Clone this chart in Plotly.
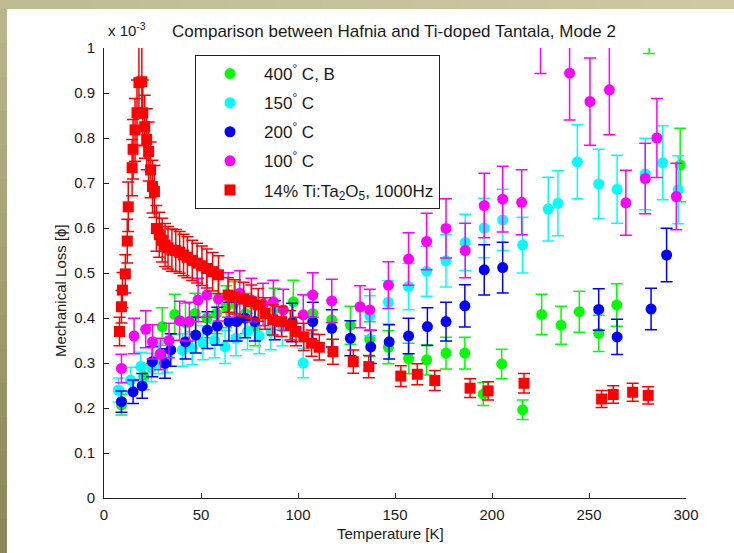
import plotly.graph_objects as go

# ---------------- data (mechanical loss in units of 1e-3) ----------------
t_green = [9, 20.5, 30, 36.5, 42, 47, 53, 58, 63, 67, 73, 78, 88, 97.6, 107.6, 117.4, 127,
           137, 146.6, 157, 166.3, 176.3, 186, 195.5, 205, 215.8, 225.6, 235.6, 245, 255,
           264.3, 281, 297]
l_green = [0.207, 0.27, 0.381, 0.408, 0.39, 0.41, 0.40, 0.41, 0.425, 0.433, 0.41, 0.38, 0.42,
           0.436, 0.41, 0.396, 0.384, 0.353, 0.335, 0.31, 0.307, 0.322, 0.322, 0.231, 0.298,
           0.196, 0.408, 0.384, 0.414, 0.366, 0.429, 1.11, 0.74]

t_cyan = [7.5, 13.7, 19, 24.5, 28, 32.6, 40.4, 45.5, 51, 57, 62.4, 68, 74, 80, 86, 92, 102.7,
          137, 146.6, 157, 166.3, 176.3, 186.2, 196, 205.5, 215.8, 229, 234, 244, 255, 264.5,
          279, 288, 296]
l_cyan = [0.24, 0.262, 0.292, 0.29, 0.31, 0.314, 0.329, 0.333, 0.345, 0.35, 0.336, 0.355, 0.37,
          0.36, 0.37, 0.38, 0.30, 0.405, 0.435, 0.47, 0.504, 0.527, 0.568, 0.60, 0.618, 0.562,
          0.642, 0.655, 0.747, 0.698, 0.686, 0.72, 0.745, 0.685]

t_blue = [9, 15, 19.7, 24.9, 31.4, 34.4, 42, 47.3, 53.3, 58.4, 64.4, 68.4, 72.7, 77.8, 88, 97,
          107.6, 117.4, 127, 137.5, 147, 157, 166.7, 176.3, 186, 196, 205.5, 255, 264.5, 282, 290]
l_blue = [0.214, 0.236, 0.249, 0.303, 0.299, 0.329, 0.347, 0.362, 0.373, 0.382, 0.392, 0.392,
          0.40, 0.392, 0.395, 0.39, 0.392, 0.377, 0.355, 0.336, 0.347, 0.36, 0.381, 0.392, 0.427,
          0.507, 0.512, 0.419, 0.358, 0.42, 0.54]

t_magenta = [9, 15.5, 21.5, 25, 29, 33.5, 39, 44, 48.5, 53, 59, 64, 70, 76, 82, 87.3, 92.4,
             102.7, 107.6, 117.4, 132, 137, 146.6, 157, 166.3, 176.3, 186.2, 196, 205.5, 215.3,
             225, 240, 250.5, 260.5, 269, 279, 285, 295]
l_magenta = [0.288, 0.36, 0.375, 0.347, 0.32, 0.35, 0.394, 0.392, 0.44, 0.451, 0.442, 0.451,
             0.455, 0.44, 0.43, 0.436, 0.418, 0.407, 0.451, 0.438, 0.425, 0.418, 0.473, 0.531,
             0.57, 0.599, 0.55, 0.65, 0.664, 0.657, 1.06, 0.944, 0.881, 0.907, 0.656, 0.71,
             0.80, 0.67]

t_red = [8, 9, 9.5, 11, 12, 12.5, 14.5, 15, 16, 17, 18, 19.5, 20, 21, 22, 23, 24, 25, 26, 27,
         28.5, 30, 31.5, 33, 35, 37, 39, 41, 43, 45.5, 48, 50.5, 53, 56, 59, 64, 67.5, 72, 76,
         79.5, 83, 87, 91.5, 96, 99, 103, 107, 111, 118, 128.5, 136.5, 153, 161.5, 170.5,
         188.7, 198, 216.5, 256.5, 262.5, 272.5, 280.5]
l_red = [0.37, 0.425, 0.462, 0.498, 0.571, 0.647, 0.734, 0.775, 0.818, 0.856, 0.923, 0.925,
         0.856, 0.825, 0.797, 0.770, 0.729, 0.692, 0.681, 0.599, 0.585, 0.573, 0.562, 0.556,
         0.551, 0.55, 0.546, 0.54, 0.535, 0.528, 0.522, 0.516, 0.51, 0.503, 0.496, 0.451,
         0.447, 0.442, 0.436, 0.429, 0.41, 0.396, 0.392, 0.384, 0.37, 0.358, 0.344, 0.335,
         0.325, 0.303, 0.292, 0.271, 0.275, 0.261, 0.244, 0.238, 0.255, 0.22, 0.23, 0.235,
         0.228]

names = ["400<sup>°</sup> C, B", "150<sup>°</sup> C", "200<sup>°</sup> C", "100<sup>°</sup> C",
         "14% Ti:Ta<sub>2</sub>O<sub>5</sub>, 1000Hz"]
x_ticks = [0, 50, 100, 150, 200, 250, 300]
y_ticks = [0, 0.1, 0.2, 0.3, 0.4, 0.5, 0.6, 0.7, 0.8, 0.9, 1]

FONT = "Liberation Sans, Arial, Helvetica, sans-serif"
TXT = "#1a1a1a"

series = [
    (names[0], t_green, l_green, "#00ff00", "circle", 11),
    (names[1], t_cyan, l_cyan, "#00ffff", "circle", 11),
    (names[2], t_blue, l_blue, "#0000ff", "circle", 11),
    (names[3], t_magenta, l_magenta, "#ff00ff", "circle", 11),
    (names[4], t_red, l_red, "#ff0000", "square", 8.5),
]

fig = go.Figure()
for i, (nm, tx, ly, col, sym, pct) in enumerate(series):
    fig.add_trace(go.Scatter(
        x=tx, y=ly, mode="markers", name=nm, legendgroup=str(i),
        marker=dict(color=col, size=11, symbol=sym, line=dict(width=0)),
        error_y=dict(type="percent", value=pct, color=col, thickness=1.5, width=6),
    ))

# plot area: x 104..686 px, y 48..498 px
W, H = 734, 553
L, R, T, B = 104, 48, 48, 55
pw, ph = W - L - R, H - T - B

def px(xp):
    return (xp - L) / pw

def py(yp):
    return (H - B - yp) / ph

shapes = []
# olive frame: top strip and left strip (gradients via bands)
nb = 16
for k in range(nb):
    f = k / (nb - 1)
    c1 = (int(192 + 14 * f), int(188 + 13 * f), int(148 + 14 * f))
    shapes.append(dict(type="rect", xref="paper", yref="paper",
                       x0=px(W * k / nb), x1=px(W * (k + 1) / nb + 1), y0=py(9), y1=py(0),
                       fillcolor="rgb(%d,%d,%d)" % c1, line=dict(width=0), layer="below"))
for k in range(nb):
    f = k / (nb - 1)
    c2 = (int(186 - 48 * f), int(182 - 47 * f), int(140 - 52 * f))
    shapes.append(dict(type="rect", xref="paper", yref="paper",
                       x0=px(0), x1=px(7), y0=py(9 + (H - 9) * (k + 1) / nb + 1),
                       y1=py(9 + (H - 9) * k / nb),
                       fillcolor="rgb(%d,%d,%d)" % c2, line=dict(width=0), layer="below"))

annotations = [
    dict(text="Mechanical Loss [ϕ]", xref="paper", yref="paper", x=px(60), y=py(291),
         xanchor="center", yanchor="middle",
         textangle=-90, showarrow=False, font=dict(size=15, family=FONT, color=TXT)),
    dict(text="Temperature [K]", xref="paper", yref="paper", x=px(390), y=py(533),
         xanchor="center", yanchor="middle",
         showarrow=False, font=dict(size=15, family=FONT, color=TXT)),
    dict(text="x 10<sup>-3</sup>", xref="paper", yref="paper", x=px(106), y=py(29),
         xanchor="left", yanchor="middle", showarrow=False,
         font=dict(size=15, family=FONT, color=TXT)),
]

fig.update_layout(
    width=W, height=H,
    margin=dict(l=L, r=R, t=T, b=B),
    paper_bgcolor="white", plot_bgcolor="white",
    title=dict(text="Comparison between Hafnia and Ti-doped Tantala, Mode 2",
               xref="paper", x=px(394), yref="container", y=1 - 31 / H,
               xanchor="center", yanchor="middle",
               font=dict(size=17, family=FONT, color=TXT)),
    showlegend=True,
    legend=dict(x=px(195), y=py(55), xanchor="left", yanchor="top",
                bgcolor="white", bordercolor="#222", borderwidth=1,
                font=dict(size=17, family=FONT, color=TXT),
                traceorder="grouped", tracegroupgap=4, itemwidth=58,
                entrywidth=197, entrywidthmode="pixels"),
    xaxis=dict(range=[0, 300], tickvals=x_ticks, ticks="inside", ticklen=5,
               showline=True, linecolor="#222", linewidth=1, mirror=False,
               showgrid=False, zeroline=False, tickfont=dict(size=15, family=FONT, color=TXT),
               tickcolor="#222", ticklabelstandoff=3),
    yaxis=dict(range=[0, 1], tickvals=y_ticks, ticks="inside", ticklen=5,
               showline=True, linecolor="#222", linewidth=1, mirror=False,
               showgrid=False, zeroline=False, tickfont=dict(size=15, family=FONT, color=TXT),
               tickcolor="#222", ticklabelstandoff=5),
    shapes=shapes,
    annotations=annotations,
)

fig.write_html("out.html")
